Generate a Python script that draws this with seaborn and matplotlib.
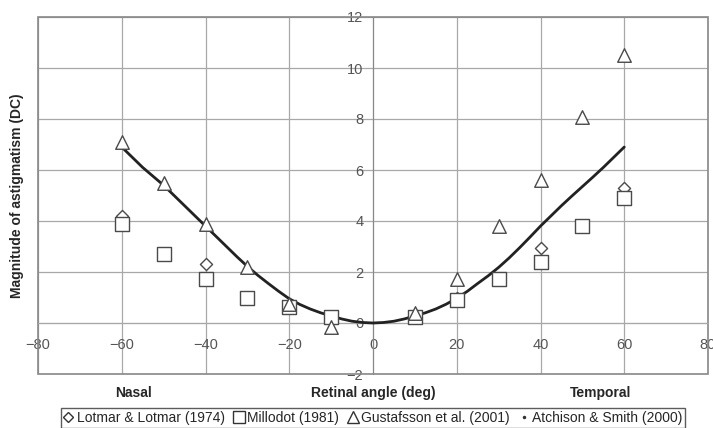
import numpy as np
import pandas as pd
import seaborn as sns
import matplotlib.pyplot as plt
from matplotlib.lines import Line2D
from matplotlib.patches import Rectangle

# data
lotmar_x = [-60, -40, -20, 10, 20, 40, 60]
lotmar_y = [4.2, 2.3, 0.7, 0.3, 1.0, 2.95, 5.3]

millodot_x = [-60, -50, -40, -30, -20, -10, 10, 20, 30, 40, 50, 60]
millodot_y = [3.9, 2.7, 1.72, 0.98, 0.63, 0.24, 0.24, 0.9, 1.73, 2.4, 3.8, 4.9]

gustafsson_x = [-60, -50, -40, -30, -20, -10, 10, 20, 30, 40, 50, 60]
gustafsson_y = [7.1, 5.5, 3.9, 2.2, 0.75, -0.16, 0.4, 1.73, 3.8, 5.6, 8.08, 10.5]

# fitted curve, read at 2.5 deg steps
atchison_x = [-60, -57.5, -55, -52.5, -50, -47.5, -45, -42.5, -40, -37.5, -35, -32.5,
              -30, -27.5, -25, -22.5, -20, -17.5, -15, -12.5, -10, -7.5, -5, -2.5, 0,
              2.5, 5, 7.5, 10, 12.5, 15, 17.5, 20, 22.5, 25, 27.5, 30, 32.5,
              35, 37.5, 40, 42.5, 45, 47.5, 50, 52.5, 55, 57.5, 60]
atchison_y = [6.9, 6.5, 6.1, 5.75, 5.4, 5.0, 4.6, 4.2, 3.8, 3.4, 3.0, 2.6,
              2.22, 1.87, 1.55, 1.24, 0.95, 0.73, 0.55, 0.4, 0.28, 0.16, 0.07, 0.02, 0.0,
              0.02, 0.07, 0.16, 0.28, 0.4, 0.55, 0.74, 0.97, 1.24, 1.55, 1.85, 2.18, 2.55,
              2.95, 3.37, 3.8, 4.2, 4.6, 4.98, 5.35, 5.72, 6.1, 6.5, 6.9]

xticks = list(range(-80, 81, 20))
yticks = list(range(-2, 13, 2))

sns.set_style("white")
plt.rcParams['font.family'] = ['Liberation Sans', 'DejaVu Sans']

fig = plt.figure(figsize=(7.13, 4.28), dpi=100)
ax = fig.add_axes([38/713, 1 - 374/428, 670/713, 357/428])

grid_c = '#a8a8a8'
edge_c = '#4a4a4a'

sns.lineplot(x=atchison_x, y=atchison_y, color='#222222', lw=2, ax=ax, zorder=3)
sns.scatterplot(x=lotmar_x, y=lotmar_y, marker='D', s=38, facecolor='white',
                edgecolor=edge_c, linewidth=1, ax=ax, zorder=4)
sns.scatterplot(x=millodot_x, y=millodot_y, marker='s', s=90, facecolor='white',
                edgecolor=edge_c, linewidth=1, ax=ax, zorder=4)
sns.scatterplot(x=gustafsson_x, y=gustafsson_y, marker='^', s=95, facecolor='white',
                edgecolor=edge_c, linewidth=1, ax=ax, zorder=5)

ax.set_xlim(-80, 80)
ax.set_ylim(-2, 12)
ax.set_xticks(xticks)
ax.set_yticks(yticks)
ax.grid(True, color=grid_c, lw=0.9)
ax.set_axisbelow(True)

for s in ['top', 'right']:
    ax.spines[s].set_visible(False)
ax.spines['left'].set_position(('data', 0))
ax.spines['bottom'].set_position(('data', 0))
ax.spines['left'].set_color('#888888')
ax.spines['bottom'].set_color(grid_c)
ax.add_patch(Rectangle((0, 0), 1, 1, transform=ax.transAxes, fill=False,
                       ec='#888888', lw=1.2, clip_on=False, zorder=2))

ax.tick_params(axis='x', length=0, pad=10.5, labelsize=10.5, labelcolor='#555555')
ax.tick_params(axis='y', direction='out', length=4, pad=3, color='#888888',
               labelsize=10.5, labelcolor='#555555')

ax.set_ylabel("Magnitude of astigmatism (DC)", fontsize=10, fontweight='bold')
ax.yaxis.set_label_coords(-0.021, 0.5)
ax.set_xlabel("")

fig.text(133/713, 1 - 393/428, "Nasal", ha='center', va='center', fontsize=10, fontweight='bold')
fig.text(373/713, 1 - 393/428, "Retinal angle (deg)", ha='center', va='center', fontsize=10, fontweight='bold')
fig.text(601/713, 1 - 393/428, "Temporal", ha='center', va='center', fontsize=10, fontweight='bold')

handles = [
    Line2D([], [], marker='D', ms=5.5, ls='none', mfc='white', mec='#333333', mew=1),
    Line2D([], [], marker='s', ms=8, ls='none', mfc='white', mec='#333333', mew=1),
    Line2D([], [], marker='^', ms=8.5, ls='none', mfc='white', mec='#333333', mew=1),
    Line2D([], [], marker='.', ms=3, ls='none', color='#333333'),
]
labels = ["Lotmar & Lotmar (1974)", "Millodot (1981)", "Gustafsson et al. (2001)", "Atchison & Smith (2000)"]
leg = fig.legend(handles, labels, loc='center', bbox_to_anchor=(373/713, 1 - 418/428), ncol=4,
                 frameon=True, fancybox=False, edgecolor='#333333', fontsize=10,
                 handlelength=0.7, handletextpad=0.25, columnspacing=0.65, borderpad=0.2,
                 borderaxespad=0)
leg.get_frame().set_linewidth(1)

plt.savefig("out.png", dpi=100)
